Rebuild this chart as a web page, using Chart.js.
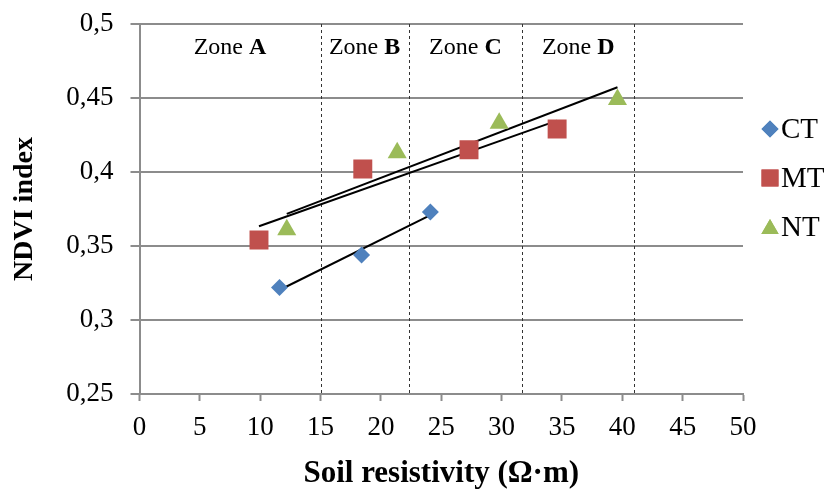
<!DOCTYPE html>
<html>
<head>
<meta charset="utf-8">
<script src="https://cdn.jsdelivr.net/npm/chart.js@4/dist/chart.umd.min.js"></script>
<style>
  html, body { margin: 0; padding: 0; background: #ffffff; }
  #wrap { width: 826px; height: 489px; position: relative; }
</style>
</head>
<body>
<div id="wrap"><canvas id="c" width="826" height="489"></canvas></div>
<script>
// ---- data ----
const ctX = [11.6, 18.4, 24.1];
const ctY = [0.322, 0.344, 0.373];
const mtX = [9.9, 18.5, 27.3, 34.6];
const mtY = [0.354, 0.402, 0.415, 0.429];
const ntX = [12.2, 21.35, 29.8, 39.6];
const ntY = [0.361, 0.413, 0.433, 0.449];
const seriesNames = ['CT', 'MT', 'NT'];
const zoneBounds = [0, 15, 22.3, 31.7, 41];
const zoneLetters = ['A', 'B', 'C', 'D'];
const xMin = 0, xMax = 50, xStep = 5;
const yMin = 0.25, yMax = 0.5, yStep = 0.05;
const xTitle = 'Soil resistivity (\u03A9\u00B7m)';
const yTitle = 'NDVI index';

const colors = ['#4F81BD', '#C0504D', '#9BBB59'];
const styles = ['rectRot', 'rect', 'triangle'];
const radii = [8.5, 13.4, 11];

function pts(xs, ys) { return xs.map((x, i) => ({ x: x, y: ys[i] })); }
// least-squares linear trendline over the series' own x range
function trend(xs, ys) {
  const n = xs.length;
  const mx = xs.reduce((a, b) => a + b, 0) / n;
  const my = ys.reduce((a, b) => a + b, 0) / n;
  let sxx = 0, sxy = 0;
  for (let i = 0; i < n; i++) { sxx += (xs[i] - mx) ** 2; sxy += (xs[i] - mx) * (ys[i] - my); }
  const b = sxy / sxx, a = my - b * mx;
  const lo = Math.min(...xs), hi = Math.max(...xs);
  return [{ x: lo, y: a + b * lo }, { x: hi, y: a + b * hi }];
}

const serif = "'Liberation Serif', 'Times New Roman', serif";
const GRID = '#8c8c8c';

const pointSets = [pts(ctX, ctY), pts(mtX, mtY), pts(ntX, ntY)];
const trendSets = [trend(ctX, ctY), trend(mtX, mtY), trend(ntX, ntY)];

const datasets = [];
trendSets.forEach((d, i) => datasets.push({
  label: seriesNames[i] + ' trend', data: d, type: 'line', showLine: true,
  borderColor: '#000000', borderWidth: 2, pointRadius: 0, fill: false, order: 2
}));
pointSets.forEach((d, i) => datasets.push({
  label: seriesNames[i], data: d, showLine: false,
  pointStyle: styles[i], pointRadius: radii[i], pointHoverRadius: radii[i],
  backgroundColor: colors[i], borderColor: colors[i], borderWidth: 0, order: 1
}));

const zonesPlugin = {
  id: 'zones',
  beforeDatasetsDraw(chart) {
    const { ctx, chartArea, scales } = chart;
    const x = scales.x;
    ctx.save();
    ctx.strokeStyle = '#333333';
    ctx.lineWidth = 1;
    ctx.setLineDash([3, 3]);
    zoneBounds.slice(1).forEach(v => {
      const px = Math.round(x.getPixelForValue(v)) + 0.5;
      ctx.beginPath();
      ctx.moveTo(px, chartArea.top);
      ctx.lineTo(px, chartArea.bottom);
      ctx.stroke();
    });
    ctx.setLineDash([]);
    ctx.fillStyle = '#000000';
    ctx.textBaseline = 'middle';
    const y = chartArea.top + 24;
    for (let i = 0; i < zoneLetters.length; i++) {
      const cx = x.getPixelForValue((zoneBounds[i] + zoneBounds[i + 1]) / 2);
      const nf = '24px ' + serif, bf = 'bold 24px ' + serif;
      ctx.font = nf; const w1 = ctx.measureText('Zone ').width;
      ctx.font = bf; const w2 = ctx.measureText(zoneLetters[i]).width;
      const sx = cx - (w1 + w2) / 2;
      ctx.font = nf; ctx.textAlign = 'left'; ctx.fillText('Zone ', sx, y);
      ctx.font = bf; ctx.fillText(zoneLetters[i], sx + w1, y);
    }
    ctx.restore();
  },
  afterDraw(chart) {
    const { ctx } = chart;
    ctx.save();
    const lx = 770, ly0 = 129, gap = 49;
    for (let i = 0; i < seriesNames.length; i++) {
      const cy = ly0 + gap * i;
      ctx.fillStyle = colors[i];
      ctx.strokeStyle = colors[i];
      ctx.lineWidth = 0;
      Chart.helpers.drawPoint(ctx, { pointStyle: styles[i], radius: [8.5, 12, 10][i], rotation: 0, borderWidth: 0 }, lx, i === 2 ? cy + 2 : cy);
      ctx.fill();
      ctx.fillStyle = '#000000';
      ctx.font = '29px ' + serif;
      ctx.textAlign = 'left';
      ctx.textBaseline = 'middle';
      ctx.fillText(seriesNames[i], 781, cy + 1);
    }
    ctx.restore();
  }
};

new Chart(document.getElementById('c'), {
  type: 'scatter',
  data: { datasets: datasets },
  plugins: [zonesPlugin],
  options: {
    responsive: false,
    animation: false,
    events: [],
    layout: { padding: { left: 0, top: 24, right: 83, bottom: 0 } },
    plugins: { legend: { display: false }, tooltip: { enabled: false } },
    scales: {
      x: {
        type: 'linear', min: xMin, max: xMax,
        afterFit(s) { s.height = 95; s.paddingLeft = 0; s.paddingRight = 0; },
        ticks: { stepSize: xStep, color: '#000', font: { family: serif, size: 27 }, padding: 11, maxRotation: 0 },
        grid: { display: true, drawOnChartArea: false, drawTicks: true, tickLength: 7, tickColor: GRID, tickWidth: 2 },
        border: { display: true, color: GRID, width: 2 },
        title: { display: true, text: xTitle, color: '#000', font: { family: serif, size: 31, weight: 'bold', lineHeight: 1.0 }, padding: { top: 0, bottom: 0 } }
      },
      y: {
        type: 'linear', min: yMin, max: yMax,
        afterFit(s) { s.width = 139.5; s.paddingTop = 0; s.paddingBottom = 0; },
        ticks: {
          stepSize: yStep, color: '#000', font: { family: serif, size: 27 }, padding: 17,
          callback: v => String(Number(v.toFixed(2))).replace('.', ',')
        },
        grid: { color: GRID, lineWidth: 2, tickLength: 9, tickColor: GRID, tickWidth: 2 },
        border: { display: true, color: GRID, width: 2 },
        title: { display: true, text: yTitle, color: '#000', font: { family: serif, size: 28, weight: 'bold' }, padding: { top: 8, bottom: 0 } }
      }
    }
  }
});
</script>
</body>
</html>
